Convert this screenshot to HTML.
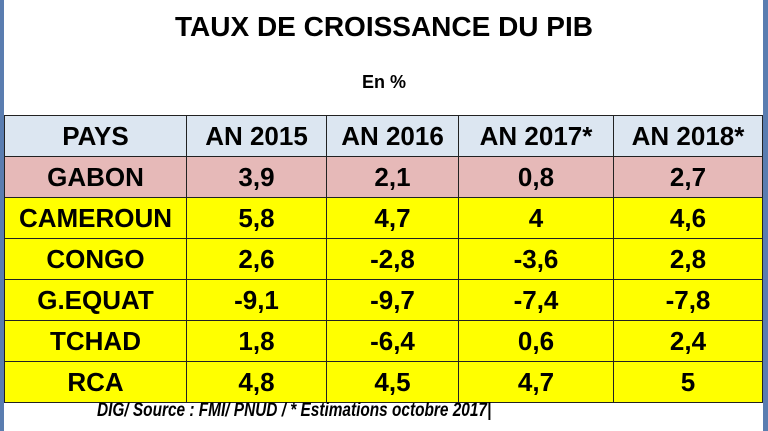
<!DOCTYPE html>
<html><head><meta charset="utf-8"><style>
body{margin:0;width:768px;height:431px;background:#fff;position:relative;overflow:hidden;font-family:"Liberation Sans",sans-serif;}
.l{position:absolute;left:0;top:0;width:4px;height:431px;background:#5a7db0;}
.r{position:absolute;right:0;top:0;width:5px;height:431px;background:#5a7db0;}
.t{position:absolute;top:11px;left:0;width:768px;text-align:center;font-weight:bold;font-size:28px;}
.s{position:absolute;top:72px;left:0;width:768px;text-align:center;font-weight:bold;font-size:18px;}
table{position:absolute;left:4px;top:115px;border-collapse:collapse;}
td{border:1px solid #222;text-align:center;font-weight:bold;font-size:26px;height:40px;padding:0;line-height:40px;}
tr.h td{background:#dce6f1;}
tr.g td{background:#e6b9b8;}
tr.y td{background:#ffff00;}
.f{position:absolute;left:97px;top:400px;font-style:italic;font-weight:bold;font-size:19px;transform:scaleX(0.81);transform-origin:left;}
</style></head><body>
<div class="l"></div><div class="r"></div>
<div class="t">TAUX DE CROISSANCE DU PIB</div>
<div class="s">En %</div>
<table>
<tr class="h"><td style="width:181px">PAYS</td><td style="width:139px">AN 2015</td><td style="width:131px">AN 2016</td><td style="width:154px">AN 2017*</td><td style="width:148px">AN 2018*</td></tr>
<tr class="g"><td>GABON</td><td>3,9</td><td>2,1</td><td>0,8</td><td>2,7</td></tr>
<tr class="y"><td>CAMEROUN</td><td>5,8</td><td>4,7</td><td>4</td><td>4,6</td></tr>
<tr class="y"><td>CONGO</td><td>2,6</td><td>-2,8</td><td>-3,6</td><td>2,8</td></tr>
<tr class="y"><td>G.EQUAT</td><td>-9,1</td><td>-9,7</td><td>-7,4</td><td>-7,8</td></tr>
<tr class="y"><td>TCHAD</td><td>1,8</td><td>-6,4</td><td>0,6</td><td>2,4</td></tr>
<tr class="y"><td>RCA</td><td>4,8</td><td>4,5</td><td>4,7</td><td>5</td></tr>
</table>
<div class="f">DIG/ Source : FMI/ PNUD / * Estimations octobre 2017|</div>
</body></html>
